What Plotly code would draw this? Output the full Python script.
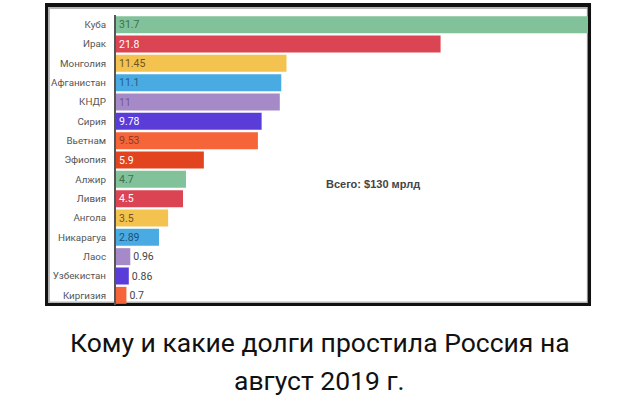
import plotly.graph_objects as go

countries = ["Куба", "Ирак", "Монголия", "Афганистан", "КНДР", "Сирия", "Вьетнам",
             "Эфиопия", "Алжир", "Ливия", "Ангола", "Никарагуа", "Лаос", "Узбекистан", "Киргизия"]
debts = [31.7, 21.8, 11.45, 11.1, 11, 9.78, 9.53, 5.9, 4.7, 4.5, 3.5, 2.89, 0.96, 0.86, 0.7]
labels = ["31.7", "21.8", "11.45", "11.1", "11", "9.78", "9.53", "5.9", "4.7", "4.5", "3.5",
          "2.89", "0.96", "0.86", "0.7"]
bar_colors = ["#82c29a", "#db4452", "#f3c24f", "#4aabe2", "#a68ac8", "#5a3cd8", "#f6643a",
              "#e2441f", "#82c29a", "#db4452", "#f3c24f", "#4aabe2", "#a68ac8", "#5a3cd8", "#f6643a"]
text_colors = ["#3d6e4e", "#ffffff", "#6e5520", "#1f5f88", "#6e5a92", "#ffffff", "#8e3d22",
               "#ffffff", "#3d6e4e", "#ffffff", "#6e5520", "#1f4f78", "#444444", "#444444", "#444444"]
positions = ["inside"] * 12 + ["outside"] * 3

title_line1 = "Кому и какие долги простила Россия на"
title_line2 = "август 2019 г."
total_text = "Всего: $130 мрлд"

fig = go.Figure(go.Bar(
    x=debts, y=countries, orientation="h",
    marker=dict(color=bar_colors, line=dict(width=0)),
    text=labels, textposition=positions, insidetextanchor="start", textangle=0,
    constraintext="none",
    textfont=dict(family="Roboto", size=10.5, color=text_colors),
    outsidetextfont=dict(family="Roboto", size=10.5, color="#444444"),
    cliponaxis=False, width=0.88,
))

fig.update_layout(
    width=640, height=403,
    margin=dict(l=116, r=52, t=15, b=98),
    paper_bgcolor="white", plot_bgcolor="rgba(0,0,0,0)",
    showlegend=False,
    xaxis=dict(range=[0, 31.7], showgrid=False, showticklabels=False, zeroline=False,
               showline=False, fixedrange=True),
    yaxis=dict(autorange="reversed", showgrid=False, showline=True, linecolor="#555555",
               linewidth=2, ticks="", ticklabelstandoff=6,
               tickfont=dict(family="Roboto", size=9.8, color="#555555")),
    annotations=[
        dict(text="<b>" + total_text + "</b>", x=0.545, y=0.417, xref="paper", yref="paper",
             showarrow=False, font=dict(family="Liberation Sans", size=11, color="#444444"),
             xanchor="center", yanchor="middle"),
        dict(text=title_line1, x=0.432, y=-0.131, xref="paper", yref="paper", showarrow=False,
             font=dict(family="Roboto", size=26.5, color="#111111"), xanchor="center",
             yanchor="middle"),
        dict(text=title_line2, x=0.432, y=-0.262, xref="paper", yref="paper", showarrow=False,
             font=dict(family="Roboto", size=26.5, color="#111111"), xanchor="center",
             yanchor="middle"),
    ],
    shapes=[
        # black outer frame
        dict(type="rect", xref="paper", yref="paper", x0=-0.1504, x1=1.0064, y0=-0.0034, y1=1.0414,
             fillcolor="#111111", line=dict(width=0), layer="below"),
        # grey soft inner edge
        dict(type="rect", xref="paper", yref="paper", x0=-0.144, x1=0.9995, y0=0.0069, y1=1.028,
             fillcolor="#b5b5b5", line=dict(width=0), layer="below"),
        # white interior
        dict(type="rect", xref="paper", yref="paper", x0=-0.140, x1=0.9975, y0=0.012, y1=1.021,
             fillcolor="#ffffff", line=dict(width=0), layer="below"),
    ],
)

fig.write_html("out.html", config={"displayModeBar": False},
               post_script="document.body.style.margin='0';")
